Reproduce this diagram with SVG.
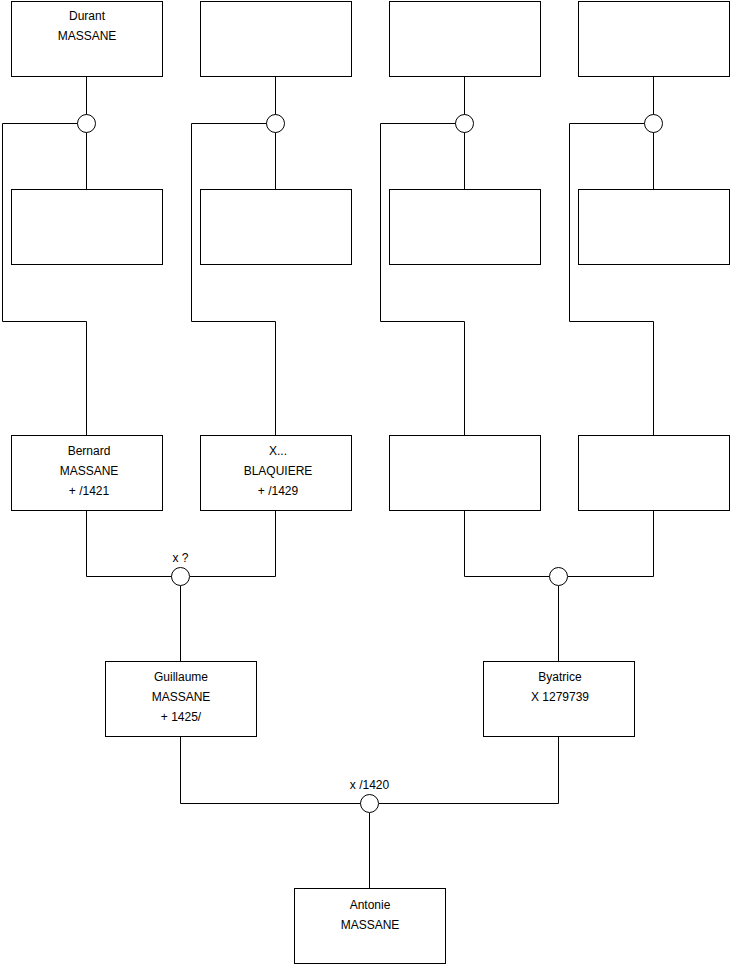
<svg xmlns="http://www.w3.org/2000/svg" width="740" height="975" viewBox="0 0 740 975">
<style>
.box{fill:#fff;stroke:#000;stroke-width:1}
.ln{fill:none;stroke:#000;stroke-width:1}
.c{fill:#fff;stroke:#000;stroke-width:1}
text{font-family:"Liberation Sans",Arial,sans-serif;font-size:12px;fill:#000;text-anchor:middle}
</style>
<rect width="740" height="975" fill="#fff"/>
<g id="connectors">
<path class="ln" d="M86.5 76V189M2.5 123.5H78M2.5 123.5V321.5H86.5V435"/>
<path class="ln" d="M275.5 76V189M191.5 123.5H267M191.5 123.5V321.5H275.5V435"/>
<path class="ln" d="M464.5 76V189M380.5 123.5H456M380.5 123.5V321.5H464.5V435"/>
<path class="ln" d="M653.5 76V189M569.5 123.5H645M569.5 123.5V321.5H653.5V435"/>
<path class="ln" d="M86.5 511V576.5H172M190 576.5H275.5V511M180.5 586V661"/>
<path class="ln" d="M464.5 511V576.5H550M568 576.5H653.5V511M558.5 586V661"/>
<path class="ln" d="M180.5 737V803.5H361M379 803.5H558.5V737M369.5 813V888"/>
</g>
<g id="u1"><circle class="c" cx="86.5" cy="123.5" r="9"/></g>
<g id="u2"><circle class="c" cx="275.5" cy="123.5" r="9"/></g>
<g id="u3"><circle class="c" cx="464.5" cy="123.5" r="9"/></g>
<g id="u4"><circle class="c" cx="653.5" cy="123.5" r="9"/></g>
<g id="u5"><circle class="c" cx="180.5" cy="576.5" r="9"/><text x="180.5" y="562">x ?</text></g>
<g id="u6"><circle class="c" cx="558.5" cy="576.5" r="9"/></g>
<g id="u7"><circle class="c" cx="369.5" cy="803.5" r="9"/><text x="369.5" y="789">x /1420</text></g>
<g id="durant"><rect class="box" x="11.5" y="1.5" width="151" height="75"/><text x="87" y="20">Durant</text><text x="87" y="40">MASSANE</text></g>
<g id="p2"><rect class="box" x="200.5" y="1.5" width="151" height="75"/></g>
<g id="p3"><rect class="box" x="389.5" y="1.5" width="151" height="75"/></g>
<g id="p4"><rect class="box" x="578.5" y="1.5" width="151" height="75"/></g>
<g id="p5"><rect class="box" x="11.5" y="189.5" width="151" height="75"/></g>
<g id="p6"><rect class="box" x="200.5" y="189.5" width="151" height="75"/></g>
<g id="p7"><rect class="box" x="389.5" y="189.5" width="151" height="75"/></g>
<g id="p8"><rect class="box" x="578.5" y="189.5" width="151" height="75"/></g>
<g id="bernard"><rect class="box" x="11.5" y="435.5" width="151" height="75"/><text x="89" y="455">Bernard</text><text x="89" y="475">MASSANE</text><text x="89" y="495">+ /1421</text></g>
<g id="blaquiere"><rect class="box" x="200.5" y="435.5" width="151" height="75"/><text x="278" y="455">X...</text><text x="278" y="475">BLAQUIERE</text><text x="278" y="495">+ /1429</text></g>
<g id="p11"><rect class="box" x="389.5" y="435.5" width="151" height="75"/></g>
<g id="p12"><rect class="box" x="578.5" y="435.5" width="151" height="75"/></g>
<g id="guillaume"><rect class="box" x="105.5" y="661.5" width="151" height="75"/><text x="181" y="681">Guillaume</text><text x="181" y="701">MASSANE</text><text x="181" y="721">+ 1425/</text></g>
<g id="byatrice"><rect class="box" x="483.5" y="661.5" width="151" height="75"/><text x="560" y="681">Byatrice</text><text x="560" y="701">X 1279739</text></g>
<g id="antonie"><rect class="box" x="294.5" y="888.5" width="151" height="75"/><text x="370" y="909">Antonie</text><text x="370" y="929">MASSANE</text></g>
</svg>
